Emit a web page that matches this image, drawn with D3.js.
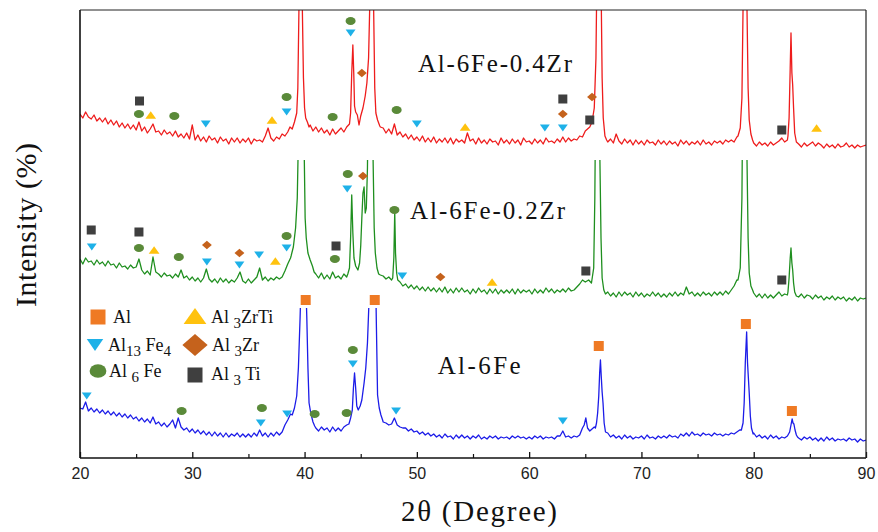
<!DOCTYPE html>
<html>
<head>
<meta charset="utf-8">
<script src="https://cdn.jsdelivr.net/npm/d3@7"></script>
<style>
  body { margin: 0; background: #fff; }
  svg { display: block; }
</style>
</head>
<body>
<svg id="chart" width="878" height="532"></svg>
<script>
// ---- XRD data: 2θ grid from 20° to 90° in 0.25° steps (a.u., stacked patterns) ----
const thetaStart = 20;
const thetaStep = 0.25;

const redGrid = [
  344,340,346,341, 339,343,337,340, 336,340,334,338, 333,337,331,335, 330,334,329,333,
  328,336,327,331, 325,329,334,326, 327,323,328,324, 326,322,327,321, 324,320,325,319,
  333,318,323,317, 321,316,322,318, 320,315,321,317, 319,314,320,316, 320,315,319,316,
  320,314,319,317, 318,316,322,330, 320,317,321,319, 324,322,326,330, 340,400,600,400,
  350,335,333,327, 331,326,330,325, 328,323,329,324, 327,330,326,331, 345,413,346,340,
  342,360,400,600, 600,360,338,331, 330,325,329,324, 334,323,326,321, 324,319,323,318,
  321,317,322,316, 320,316,321,315, 319,316,320,315, 320,314,319,316, 318,315,325,317,
  319,314,320,315, 318,314,319,316, 317,313,320,315, 318,314,319,315, 318,313,320,316,
  317,314,319,315, 318,314,320,316, 317,315,319,316, 321,316,320,317, 319,318,322,321,
  327,330,336,380, 500,600,380,325, 316,319,315,324, 317,314,319,315, 318,313,318,314,
  317,313,318,315, 316,313,318,314, 317,313,317,314, 316,312,318,314, 317,313,316,314,
  317,313,318,314, 316,313,317,315, 317,314,318,316, 318,316,321,330, 450,600,380,325,
  315,312,316,313, 315,312,316,313, 315,317,320,316, 318,390,360,316, 314,311,315,312,
  314,316,312,315, 313,310,314,311, 313,310,314,311, 312,315,311,313, 310,313,311,312,
  313
];
const redPeaks = [
  [[38.5,326],[38.7,331],[38.9,329],[39.1,336],[39.3,345],[39.4,370],[39.5,450],[39.6,600],[39.7,600],[39.8,450],[39.9,380],[40.0,350],[40.1,340],[40.25,336],[40.4,331]],
  [[44.0,334],[44.1,345],[44.2,385],[44.3,413],[44.38,385],[44.45,352],[44.55,346],[44.7,343],[44.85,333],[45.0,342],[45.2,350],[45.4,362],[45.55,375],[45.7,400],[45.8,450],[45.9,600],[46.05,600],[46.15,450],[46.25,370],[46.35,345],[46.5,338],[46.7,332]],
  [[65.2,329],[65.4,331],[65.6,336],[65.8,350],[65.95,400],[66.05,500],[66.15,600],[66.3,600],[66.4,480],[66.5,380],[66.6,340],[66.75,322],[66.9,318]],
  [[78.6,322],[78.8,330],[78.95,360],[79.05,450],[79.15,600],[79.3,600],[79.4,450],[79.5,370],[79.6,338],[79.75,324],[79.9,318]],
  [[83.05,322],[83.15,340],[83.25,390],[83.32,425],[83.4,385],[83.47,373],[83.55,350],[83.65,325],[83.8,316]]
];

const greenGrid = [
  199,194,200,196, 197,193,198,194, 196,192,197,193, 194,190,195,191, 192,189,193,190,
  191,199,188,184, 187,183,201,186, 184,181,185,182, 183,180,184,181, 188,180,182,178,
  181,177,180,176, 180,189,179,176, 179,175,180,176, 179,175,178,176, 180,186,177,175,
  179,175,178,181, 190,178,181,177, 180,178,181,179, 181,187,194,200, 211,260,420,330,
  230,205,198,190, 184,180,185,179, 183,179,186,180, 182,179,184,181, 190,225,188,212,
  271,420,420,230, 400,205,190,183, 182,179,181,178, 200,200,176,172, 174,170,173,169,
  172,168,171,167, 171,167,170,166, 170,166,171,165, 169,165,170,166, 170,166,168,164,
  169,165,170,166, 168,164,169,165, 169,164,168,165, 168,165,169,164, 169,165,168,166,
  168,164,169,165, 168,165,170,166, 169,165,168,166, 169,166,170,167, 168,171,174,178,
  176,178,175,260, 420,400,180,166, 166,162,165,161, 166,162,166,163, 165,161,166,162,
  165,161,164,162, 166,162,165,161, 164,161,165,162, 166,162,165,163, 171,164,166,162,
  165,162,166,163, 165,162,166,163, 166,163,167,164, 168,172,178,190, 400,420,220,172,
  165,161,164,160, 164,160,163,160, 163,166,162,164, 163,200,175,162, 161,164,160,163,
  162,159,163,160, 162,158,161,159, 162,158,161,159, 161,157,160,158, 161,157,160,159,
  160
];
const greenPeaks = [
  [[38.8,202],[39.0,211],[39.2,230],[39.35,260],[39.45,320],[39.55,400],[39.7,420],[39.85,400],[39.95,320],[40.05,240],[40.15,220],[40.3,205],[40.5,198],[40.7,192],[40.85,186]],
  [[43.85,184],[44.0,190],[44.1,220],[44.2,263],[44.3,225],[44.4,200],[44.55,192],[44.75,188],[44.9,195],[45.0,212],[45.1,240],[45.2,265],[45.3,271],[45.4,245],[45.5,250],[45.6,290],[45.7,400],[45.85,420],[46.0,400],[46.1,300],[46.2,230],[46.3,205],[46.45,190],[46.6,184]],
  [[47.85,180],[47.95,200],[48.03,246],[48.1,205],[48.2,185],[48.3,178]],
  [[65.0,176],[65.3,178],[65.55,175],[65.75,190],[65.85,260],[65.95,400],[66.05,420],[66.2,400],[66.3,300],[66.4,220],[66.5,180],[66.65,168],[66.8,164]],
  [[78.6,178],[78.8,190],[78.95,260],[79.05,400],[79.15,420],[79.3,400],[79.4,300],[79.5,220],[79.6,185],[79.75,172],[79.9,168]],
  [[83.05,166],[83.15,180],[83.25,200],[83.32,210],[83.4,195],[83.47,188],[83.55,175],[83.65,166],[83.8,162]]
];

const blueGrid = [
  50,49,56,47, 50,46,49,45, 48,44,47,43, 46,42,45,41, 44,40,43,39,
  41,37,40,36, 39,35,41,34, 36,32,35,31, 34,38,30,40, 31,28,30,26,
  29,25,28,24, 27,23,26,22, 26,22,25,21, 25,21,24,22, 25,21,24,21,
  24,21,25,22, 28,22,25,21, 25,22,26,23, 26,33,38,44, 50,90,200,140,
  200,90,45,36, 30,27,31,28, 30,26,31,27, 30,27,31,33, 40,75,52,58,
  75,115,210,200, 220,130,50,38, 36,35,33,34, 40,33,31,30, 30,27,29,26,
  27,24,26,23, 25,22,24,21, 23,20,24,21, 22,19,23,20, 23,20,22,19,
  22,20,23,19, 21,19,22,20, 22,19,21,20, 21,19,22,20, 22,20,21,19,
  21,19,22,20, 22,19,21,20, 21,19,22,22, 27,21,22,20, 22,21,23,30,
  33,27,29,35, 70,98,66,30, 25,21,23,20, 22,19,23,20, 22,19,21,20,
  22,19,23,20, 21,19,22,20, 22,20,23,21, 22,20,24,22, 25,22,26,23,
  24,22,25,23, 24,22,25,23, 24,22,24,23, 25,24,26,28, 35,110,81,42,
  25,21,23,20, 22,19,23,20, 22,19,21,20, 22,24,33,34, 20,18,21,19,
  21,18,20,17, 20,17,21,18, 20,17,19,18, 19,17,20,18, 19,16,19,17,
  18
];
const bluePeaks = [
  [[38.9,43],[39.1,50],[39.3,62],[39.45,90],[39.6,140],[39.75,200],[39.9,220],[40.05,200],[40.2,140],[40.3,90],[40.4,55],[40.55,45],[40.75,36],[40.9,32]],
  [[43.95,34],[44.1,40],[44.25,48],[44.35,70],[44.45,85],[44.55,70],[44.65,52],[44.78,48],[44.95,52],[45.1,58],[45.3,75],[45.45,90],[45.6,115],[45.75,160],[45.9,210],[46.1,220],[46.3,200],[46.4,130],[46.5,63],[46.65,50],[46.8,43],[46.95,38]],
  [[64.9,33],[65.05,40],[65.2,30],[65.4,27],[65.6,29],[65.8,31],[65.9,30],[66.0,35],[66.1,45],[66.2,62],[66.28,85],[66.35,98],[66.42,82],[66.5,66],[66.58,55],[66.68,35],[66.8,26]],
  [[78.9,28],[79.05,35],[79.15,55],[79.25,95],[79.37,126],[79.45,95],[79.52,81],[79.6,65],[79.7,42],[79.8,30],[79.95,24]],
  [[83.2,26],[83.32,33],[83.42,39],[83.5,35],[83.58,34],[83.68,28],[83.8,23],[83.9,21]]
];

// Sample names and the intensity ceiling shown for each stacked pattern
const sampleNames = ["Al-6Fe-0.4Zr", "Al-6Fe-0.2Zr", "Al-6Fe"];
const sampleCeilings = [448, 298, 150];

// Phase identification marks: [phase, 2θ, intensity level]
const phases = ["Al", "Al3ZrTi", "Al13Fe4", "Al3Zr", "Al6Fe", "Al3Ti"];
const redMarks = [
  ["Al3Ti",25.3,357],["Al6Fe",25.25,344],["Al3ZrTi",26.3,343],["Al6Fe",28.4,342],["Al13Fe4",31.2,334],
  ["Al3ZrTi",37.1,338],["Al6Fe",38.4,361],["Al13Fe4",38.4,346],["Al6Fe",44.1,437],["Al13Fe4",44.1,425],
  ["Al3Zr",45.1,385],["Al6Fe",42.5,341],["Al6Fe",48.2,348],["Al13Fe4",50.0,334],["Al3ZrTi",54.3,331],
  ["Al13Fe4",61.4,330],["Al13Fe4",63.0,330],["Al3Zr",63.0,344],["Al3Ti",63.0,359],["Al3Zr",65.6,361],
  ["Al3Ti",65.4,338],["Al3Ti",82.5,328],["Al3ZrTi",85.6,330]
];
const greenMarks = [
  ["Al3Ti",21.0,228],["Al13Fe4",21.05,211],["Al3Ti",25.25,226],["Al6Fe",25.25,210],["Al3ZrTi",26.6,208],
  ["Al6Fe",28.8,201],["Al3Zr",31.3,213],["Al13Fe4",31.3,196],["Al3Zr",34.2,205],["Al13Fe4",34.2,193],
  ["Al13Fe4",35.95,203],["Al3ZrTi",37.4,197],["Al6Fe",38.4,222],["Al13Fe4",38.4,210],["Al3Ti",42.8,212],
  ["Al6Fe",42.7,199],["Al6Fe",43.85,284],["Al13Fe4",43.8,269],["Al3Zr",45.2,282],["Al6Fe",48.0,248],
  ["Al13Fe4",48.7,182],["Al3Zr",52.1,181],["Al3ZrTi",56.7,176],["Al3Ti",65.05,187],["Al3Ti",82.5,178]
];
const blueMarks = [
  ["Al13Fe4",20.6,62],["Al6Fe",29.05,47],["Al6Fe",36.2,50],["Al13Fe4",36.1,35],["Al13Fe4",38.45,44],
  ["Al6Fe",40.9,44],["Al6Fe",43.75,45],["Al6Fe",44.3,108],["Al13Fe4",44.3,94],["Al13Fe4",48.15,47],
  ["Al",40.1,158],["Al",46.25,158],["Al13Fe4",63.0,37],["Al",66.2,112],["Al",79.3,134],["Al",83.4,47]
];

const xTicks = [20, 30, 40, 50, 60, 70, 80, 90];
const xMinorTicks = [25, 35, 45, 55, 65, 75, 85];

// ---- layout and styles ----
const svg = d3.select("#chart");
const plot = { left: 80, right: 866, top: 10, bottom: 458 };
const lineColors = ["#ee1c1c", "#1f8f1f", "#1c1ce8"];
const phaseColor = {
  Al: "#ef7a24", Al3ZrTi: "#ffc20e", Al13Fe4: "#1eb1e8",
  Al3Zr: "#c5621c", Al6Fe: "#5a8a39", Al3Ti: "#3f3f3f"
};
const serifFont = "Liberation Serif";
const sansFont = "Liberation Sans";

const x = d3.scaleLinear().domain([20, 90]).range([plot.left, plot.right]);
const y = d3.scaleLinear().domain([0, 448]).range([plot.bottom, plot.top]);

function profile(grid, peaks) {
  const pts = grid
    .map((v, i) => [thetaStart + i * thetaStep, v])
    .filter(([t]) => !peaks.some(p => t >= p[0][0] - 1e-6 && t <= p[p.length - 1][0] + 1e-6));
  peaks.forEach(p => p.forEach(d => pts.push(d)));
  return pts.sort((a, b) => a[0] - b[0]);
}

const patterns = [
  profile(redGrid, redPeaks),
  profile(greenGrid, greenPeaks),
  profile(blueGrid, bluePeaks)
];
const marks = [redMarks, greenMarks, blueMarks];

const defs = svg.append("defs");
sampleCeilings.forEach((c, i) => {
  defs.append("clipPath").attr("id", "clip" + i)
    .append("rect")
    .attr("x", plot.left).attr("y", y(c))
    .attr("width", plot.right - plot.left).attr("height", plot.bottom - y(c));
});

const line = d3.line().x(d => x(d[0])).y(d => y(d[1]));

patterns.forEach((p, i) => {
  svg.append("path")
    .datum(p)
    .attr("clip-path", `url(#clip${i})`)
    .attr("fill", "none")
    .attr("stroke", lineColors[i])
    .attr("stroke-width", 1.3)
    .attr("stroke-linejoin", "round")
    .attr("d", line);
});

// marker glyphs
function drawMark(g, phase, cx, cy, s) {
  const col = phaseColor[phase];
  if (phase === "Al" || phase === "Al3Ti") {
    g.append("rect").attr("x", cx - s / 2).attr("y", cy - s / 2)
      .attr("width", s).attr("height", s).attr("fill", col);
  } else if (phase === "Al6Fe") {
    g.append("ellipse").attr("cx", cx).attr("cy", cy)
      .attr("rx", s * 0.56).attr("ry", s * 0.45).attr("fill", col);
  } else if (phase === "Al13Fe4") {
    const w = s * 1.1, h = s * 0.8;
    g.append("path").attr("fill", col)
      .attr("d", `M${cx - w / 2},${cy - h / 2}L${cx + w / 2},${cy - h / 2}L${cx},${cy + h / 2}Z`);
  } else if (phase === "Al3ZrTi") {
    const w = s * 1.2, h = s * 0.85;
    g.append("path").attr("fill", col)
      .attr("d", `M${cx - w / 2},${cy + h / 2}L${cx + w / 2},${cy + h / 2}L${cx},${cy - h / 2}Z`);
  } else if (phase === "Al3Zr") {
    const w = s * 1.1, h = s * 0.95;
    g.append("path").attr("fill", col)
      .attr("d", `M${cx - w / 2},${cy}L${cx},${cy - h / 2}L${cx + w / 2},${cy}L${cx},${cy + h / 2}Z`);
  }
}

const markLayer = svg.append("g");
marks.forEach(list => {
  list.forEach(([ph, t, v]) => drawMark(markLayer, ph, x(t), y(v), ph === "Al" ? 10 : 9));
});

// sample names, anchored at 2θ / intensity positions
const sampleLabelPos = [
  { t: 50.1, v: 386, len: 154 },
  { t: 49.4, v: 239, len: 155 },
  { t: 51.85, v: 84, len: 83 }
];
sampleNames.forEach((name, i) => {
  const p = sampleLabelPos[i];
  svg.append("text")
    .attr("x", x(p.t)).attr("y", y(p.v))
    .attr("font-family", serifFont).attr("font-size", 25)
    .attr("textLength", p.len).attr("lengthAdjust", "spacing")
    .attr("fill", "#111")
    .text(name);
});

// legend
const legendItems = [
  { ph: "Al", mx: 98, my: 317, tx: 113, ty: 323, parts: [["Al", false]] },
  { ph: "Al3ZrTi", mx: 195, my: 316, tx: 211, ty: 323, parts: [["Al ", false], ["3", true], ["ZrTi", false]] },
  { ph: "Al13Fe4", mx: 95, my: 345, tx: 108, ty: 351, parts: [["Al", false], ["13", true], [" Fe", false], ["4", true]] },
  { ph: "Al3Zr", mx: 195, my: 345, tx: 212, ty: 351, parts: [["Al ", false], ["3", true], ["Zr", false]] },
  { ph: "Al6Fe", mx: 98, my: 371, tx: 109, ty: 377, parts: [["Al ", false], ["6", true], [" Fe", false]] },
  { ph: "Al3Ti", mx: 195, my: 375, tx: 211, ty: 380, parts: [["Al ", false], ["3", true], [" Ti", false]] }
];
const legend = svg.append("g");
legendItems.forEach(it => {
  const s = it.ph === "Al3ZrTi" ? 19 : it.ph === "Al3Zr" ? 23 : 15;
  drawMark(legend, it.ph, it.mx, it.my, s);
  const t = legend.append("text")
    .attr("x", it.tx).attr("y", it.ty)
    .attr("font-family", serifFont).attr("font-size", 18).attr("fill", "#111");
  let shifted = false;
  it.parts.forEach(([str, sub]) => {
    const ts = t.append("tspan").text(str);
    if (sub && !shifted) { ts.attr("dy", 5); shifted = true; }
    else if (!sub && shifted) { ts.attr("dy", -5); shifted = false; }
    if (sub) ts.attr("font-size", 15);
  });
});

// axes and frame
const xAxis = d3.axisBottom(x).tickValues(xTicks).tickSizeInner(-6).tickSizeOuter(0).tickPadding(10);
const gx = svg.append("g").attr("transform", `translate(0,${plot.bottom})`).call(xAxis);
gx.attr("font-family", sansFont).attr("font-size", 16);
gx.select(".domain").remove();
gx.selectAll(".tick line").attr("stroke", "#111").attr("stroke-width", 1.3);
gx.selectAll(".tick text").attr("fill", "#222");

const minorAxis = d3.axisBottom(x).tickValues(xMinorTicks).tickSizeInner(-4).tickSizeOuter(0).tickFormat("");
const gm = svg.append("g").attr("transform", `translate(0,${plot.bottom})`).call(minorAxis);
gm.select(".domain").remove();
gm.selectAll(".tick line").attr("stroke", "#111").attr("stroke-width", 1.2);

svg.append("line").attr("x1", plot.left).attr("x2", plot.right).attr("y1", plot.bottom).attr("y2", plot.bottom)
  .attr("stroke", "#111").attr("stroke-width", 1.6);
svg.append("line").attr("x1", plot.left).attr("x2", plot.left).attr("y1", plot.top).attr("y2", plot.bottom)
  .attr("stroke", "#111").attr("stroke-width", 1.6);
svg.append("line").attr("x1", plot.left).attr("x2", plot.right).attr("y1", plot.top).attr("y2", plot.top)
  .attr("stroke", "#222").attr("stroke-width", 1);
svg.append("line").attr("x1", plot.right).attr("x2", plot.right).attr("y1", plot.top).attr("y2", plot.bottom)
  .attr("stroke", "#222").attr("stroke-width", 1.2);

// axis titles
svg.append("text")
  .attr("x", 401).attr("y", 521)
  .attr("font-family", serifFont).attr("font-size", 29).attr("fill", "#111")
  .attr("textLength", 156).attr("lengthAdjust", "spacing")
  .text("2θ (Degree)");

svg.append("text")
  .attr("transform", "translate(36,225) rotate(-90)")
  .attr("text-anchor", "middle")
  .attr("font-family", serifFont).attr("font-size", 30).attr("fill", "#111")
  .attr("textLength", 164).attr("lengthAdjust", "spacing")
  .text("Intensity (%)");
</script>
</body>
</html>
